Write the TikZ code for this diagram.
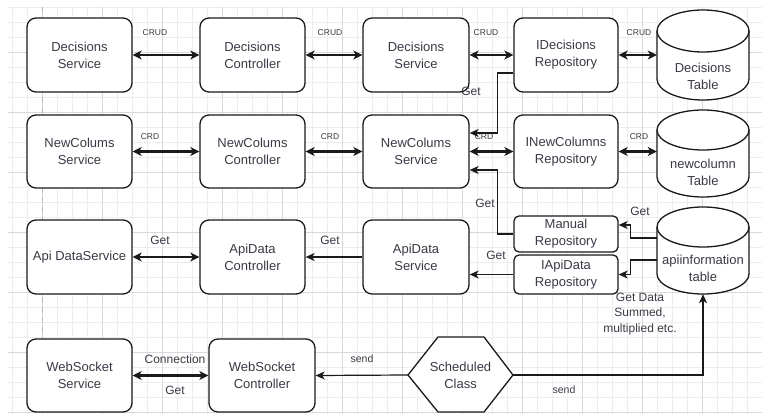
\documentclass[tikz,border=0pt]{standalone}
\usepackage{fontspec}
\setmainfont{Liberation Sans}
\usetikzlibrary{arrows.meta}
\definecolor{ink}{HTML}{1A1A1A}
\definecolor{txt}{HTML}{3A3A46}
\definecolor{gridminor}{HTML}{EDEDED}
\definecolor{gridmajor}{HTML}{D9D9D9}

\begin{document}
\begin{tikzpicture}[x=1pt,y=-1pt,
  box/.style={draw=ink, line width=1.3pt, rounded corners=9pt, fill=white,
    minimum width=105pt, minimum height=74pt, inner sep=2pt, align=center,
    text=txt, font=\fontsize{13}{17}\selectfont},
  shortbox/.style={box, rounded corners=5pt},
  plain/.style={inner sep=0pt, align=center, text=txt, font=\fontsize{13}{17}\selectfont},
  lbl/.style={inner sep=0pt, align=center, text=txt, font=\fontsize{12}{15.5}\selectfont},
  minilbl/.style={inner sep=0pt, text=txt, font=\fontsize{8.5}{10}\selectfont},
  sendlbl/.style={inner sep=0pt, text=txt, font=\fontsize{10.5}{12}\selectfont},
  cylanchor/.style={inner sep=0pt, minimum width=92pt, minimum height=#1},
  wall/.style={draw=ink, line width=1.3pt},
  dbl/.style={draw=ink, line width=2.3pt,
    {Stealth[length=9pt,width=9pt,inset=2.5pt]}-{Stealth[length=9pt,width=9pt,inset=2.5pt]}},
  one/.style={draw=ink, line width=1.2pt, -{Stealth[length=9pt,width=8pt,inset=2.5pt]}},
]
\useasboundingbox (0,0) rectangle (762,414);
\fill[white] (0,0) rectangle (762,414);

% background grid
\foreach \x in {12,27,...,762} \draw[gridminor, line width=0.6pt] (\x,7) -- (\x,414);
\foreach \y in {7,22,...,414} \draw[gridminor, line width=0.6pt] (8,\y) -- (762,\y);
\foreach \x in {42,102,...,762} \draw[gridmajor, line width=0.7pt] (\x,7) -- (\x,414);
\foreach \y in {52,112,...,414} \draw[gridmajor, line width=0.7pt] (8,\y) -- (762,\y);
\draw[gray!55, line width=0.7pt, dash pattern=on 6pt off 4pt] (42,7) -- (42,414);

% row 1: decisions
\node[box] (decSvcA) at (79.5,55) {Decisions\\Service};
\node[box] (decCtl) at (252.5,55) {Decisions\\Controller};
\node[box, minimum width=106pt] (decSvcB) at (416,55) {Decisions\\Service};
\node[box, minimum width=104pt] (decRepo) at (566,55) {IDecisions\\Repository};

% row 2: new columns
\node[box, minimum height=73pt] (ncSvcA) at (79.5,151.5) {NewColums\\Service};
\node[box, minimum height=73pt] (ncCtl) at (252.5,151.5) {NewColums\\Controller};
\node[box, minimum width=106pt, minimum height=73pt] (ncSvcB) at (416,151.5) {NewColums\\Service};
\node[box, minimum width=104pt, minimum height=73pt] (ncRepo) at (566,151.5) {INewColumns\\Repository};

% row 3: api data
\node[box] (apiSvcA) at (79.5,257) {Api DataService};
\node[box] (apiCtl) at (252.5,257) {ApiData\\Controller};
\node[box, minimum width=106pt] (apiSvcB) at (416,257) {ApiData\\Service};
\node[shortbox, minimum width=104pt, minimum height=36pt, inner sep=0pt] (manRepo) at (566,234) {Manual\\Repository};
\node[shortbox, minimum width=104pt, minimum height=39pt, inner sep=0pt] (apiRepo) at (566,274.5) {IApiData\\Repository};

% row 4: websocket
\node[box, minimum height=73pt] (wsSvc) at (79.5,375.5) {WebSocket\\Service};
\node[box, minimum width=106pt, minimum height=73pt] (wsCtl) at (262,375.5) {WebSocket\\Controller};

% scheduled class hexagon
\draw[wall, fill=white] (408,375) -- (438,337) -- (484,337) -- (513,375) -- (484,412) -- (438,412) -- cycle;
\node[plain] (sched) at (460.5,375) {Scheduled\\Class};
\coordinate (schedW) at (408,375);
\coordinate (schedE) at (513,375);

% database tables
\draw[wall, fill=white] (657,31) -- (657,79) arc[start angle=180, end angle=360, x radius=46pt, y radius=21pt]
  -- (749,31) arc[start angle=0, end angle=180, x radius=46pt, y radius=21pt] -- cycle;
\draw[wall] (657,31) arc[start angle=180, end angle=360, x radius=46pt, y radius=21pt];
\node[cylanchor=90pt] (decTab) at (703,55) {};
\node[plain] at (703,76) {Decisions\\Table};

\draw[wall, fill=white] (657,130) -- (657,177) arc[start angle=180, end angle=360, x radius=46pt, y radius=20pt]
  -- (749,130) arc[start angle=0, end angle=180, x radius=46pt, y radius=20pt] -- cycle;
\draw[wall] (657,130) arc[start angle=180, end angle=360, x radius=46pt, y radius=20pt];
\node[cylanchor=87pt] (ncTab) at (703,153.5) {};
\node[plain] at (703,172) {newcolumn\\Table};

\draw[wall, fill=white] (657,227) -- (657,274) arc[start angle=180, end angle=360, x radius=46pt, y radius=20pt]
  -- (749,227) arc[start angle=0, end angle=180, x radius=46pt, y radius=20pt] -- cycle;
\draw[wall] (657,227) arc[start angle=180, end angle=360, x radius=46pt, y radius=20pt];
\node[cylanchor=87pt] (apiTab) at (703,250.5) {};
\node[plain] at (703,268) {apiinformation\\table};

% connector labels
\node[minilbl] at (155,33) {CRUD};
\node[minilbl] at (330,33) {CRUD};
\node[minilbl] at (486,33) {CRUD};
\node[minilbl] at (639,33) {CRUD};
\node[minilbl] at (150,137) {CRD};
\node[minilbl] at (330,137) {CRD};
\node[minilbl] at (484,137) {CRD};
\node[minilbl] at (639,137) {CRD};
\node[lbl] at (471,91) {Get};
\node[lbl] at (485,203) {Get};
\node[lbl] at (160,240) {Get};
\node[lbl] at (330,240) {Get};
\node[lbl] at (496,255) {Get};
\node[lbl] at (640,211) {Get};
\node[lbl] at (640,314) {Get Data\\Summed,\\multiplied etc.};
\node[lbl] at (175,359) {Connection};
\node[lbl] at (175,390) {Get};
\node[sendlbl] at (362,359) {send};
\node[sendlbl] at (564,390) {send};

% connectors
\draw[dbl] (decSvcA.east) -- (decCtl.west);
\draw[dbl] (decCtl.east) -- (decSvcB.west);
\draw[dbl] (decSvcB.east) -- (decRepo.west);
\draw[dbl] (decRepo.east) -- (decTab.west);

\draw[dbl] (ncSvcA.east) -- (ncCtl.west);
\draw[dbl] (ncCtl.east) -- (ncSvcB.west);
\draw[dbl] (ncSvcB.east) -- (ncRepo.west);
\draw[dbl] (ncRepo.east) -- (ncTab.west |- ncRepo.east);

\draw[one] ([yshift=-18pt]decRepo.west) -- ++(-16,0) |- ([yshift=18.5pt]ncSvcB.east);
\draw[one] (manRepo.west) -- ++(-16,0) |- ([yshift=-18.5pt]ncSvcB.east);

\draw[dbl] (apiSvcA.east) -- (apiCtl.west);
\draw[one] (apiSvcB.west) -- (apiCtl.east);
\draw[one] (apiRepo.west) -- (apiSvcB.east |- apiRepo.west);
\draw[one] ([yshift=12.5pt]apiTab.west) -- ++(-26,0) |- ([yshift=9pt]manRepo.east);
\draw[one] ([yshift=-9.5pt]apiTab.west) -- ++(-26,0) |- (apiRepo.east);

\draw[dbl] (wsSvc.east) -- (wsCtl.west);
\draw[one] (schedW) -- (wsCtl.east);
\draw[one] (schedE) -| (apiTab.south);
\end{tikzpicture}
\end{document}
